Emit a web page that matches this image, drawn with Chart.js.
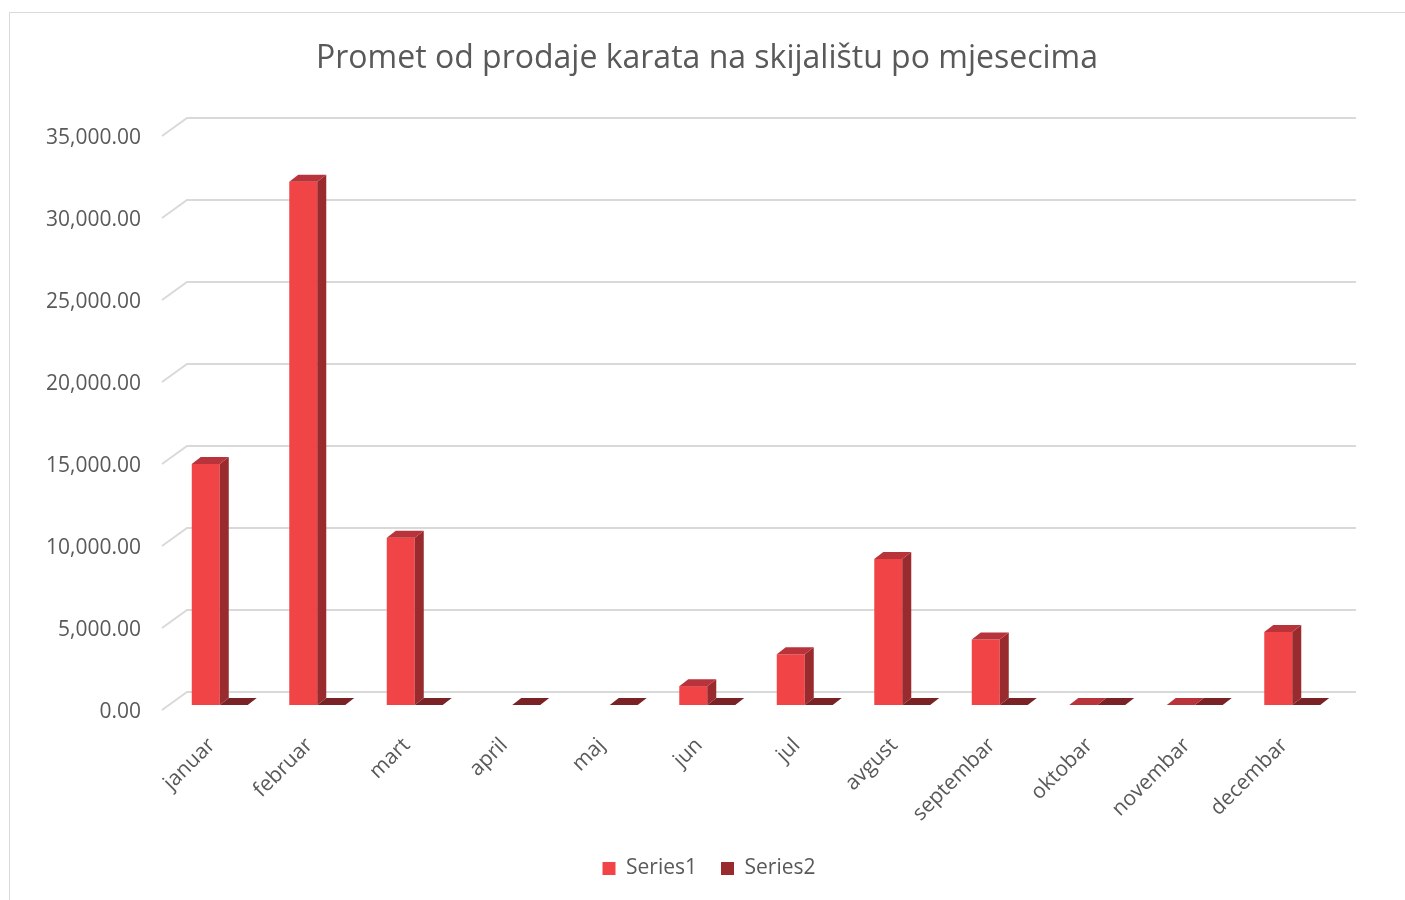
<!DOCTYPE html>
<html>
<head>
<meta charset="utf-8">
<script src="https://cdn.jsdelivr.net/npm/chart.js@4.4.1/dist/chart.umd.min.js"></script>
<style>
  html, body { margin: 0; padding: 0; background: #fff; }
  #wrap { position: absolute; left: 0; top: 0; width: 1405px; height: 900px; }
</style>
</head>
<body>
<div id="wrap"><canvas id="chart" width="1405" height="900"></canvas></div>
<script>
// data
const months = ["januar", "februar", "mart", "april", "maj", "jun", "jul", "avgust", "septembar", "oktobar", "novembar", "decembar"];
const series1 = [14700, 31900, 10200, null, null, 1150, 3100, 8900, 4000, 0, 0, 4450];
const series2 = [0, 0, 0, 0, 0, 0, 0, 0, 0, 0, 0, 0];
const yMax = 35000;
const yStep = 5000;

const TEXT = "#595959";
const FONT = "'Open Sans', sans-serif";

// 3D look: side + top faces per bar, back wall grid offset
const DEPTH_X = 9, DEPTH_Y = 7;
const WALL_DX = 16, WALL_DY = 13;
const LEGEND_PAD_BOTTOM = 11;

const faceColors = [
  { front: "#F04447", side: "#992A2E", top: "#B8343A" },
  { front: "#992A2E", side: "#6E1E21", top: "#7A2326" }
];

const backWall = {
  id: "backWall",
  afterLayout(chart) {
    // centre title and legend on the whole frame, not on the padded box
    chart.titleBlock.left = 9;
    chart.titleBlock.right = 1405;
    chart.titleBlock.width = 1396;
    chart.legend.left = 13;
    chart.legend.right = 1405;
    chart.legend.width = 1392;
  },
  beforeDraw(chart) {
    const { ctx } = chart;
    ctx.save();
    ctx.strokeStyle = "#D9D9D9";
    ctx.lineWidth = 1;
    ctx.strokeRect(9.5, 12.5, 1400, 900);
    ctx.restore();
  },
  beforeDatasetsDraw(chart) {
    const { ctx, chartArea } = chart;
    const y = chart.scales.y;
    ctx.save();
    ctx.strokeStyle = "#D9D9D9";
    ctx.lineWidth = 2;
    y.ticks.forEach(t => {
      const py = y.getPixelForValue(t.value);
      ctx.beginPath();
      ctx.moveTo(chartArea.left - 9, py + 5);
      ctx.lineTo(chartArea.left + WALL_DX, py - WALL_DY);
      ctx.lineTo(chartArea.right + 15, py - WALL_DY);
      ctx.stroke();
    });
    ctx.restore();
  },
  afterDatasetsDraw(chart) {
    const { ctx } = chart;
    ctx.save();
    // series2 first (slabs), then series1 so its side faces sit on top
    [1, 0].forEach(di => {
      const meta = chart.getDatasetMeta(di);
      const c = faceColors[di];
      meta.data.forEach((bar, i) => {
        if (chart.data.datasets[di].data[i] === null) return;
        const p = bar.getProps(["x", "y", "base", "width"], true);
        const l = p.x - p.width / 2, r = p.x + p.width / 2;
        const top = p.y, base = p.base;
        // side face
        ctx.fillStyle = c.side;
        ctx.beginPath();
        ctx.moveTo(r, top);
        ctx.lineTo(r + DEPTH_X, top - DEPTH_Y);
        ctx.lineTo(r + DEPTH_X, base - DEPTH_Y);
        ctx.lineTo(r, base);
        ctx.closePath();
        ctx.fill();
        // top face
        ctx.fillStyle = c.top;
        ctx.beginPath();
        ctx.moveTo(l, top);
        ctx.lineTo(l + DEPTH_X, top - DEPTH_Y);
        ctx.lineTo(r + DEPTH_X, top - DEPTH_Y);
        ctx.lineTo(r, top);
        ctx.closePath();
        ctx.fill();
      });
    });
    ctx.restore();
  }
};

new Chart(document.getElementById("chart"), {
  type: "bar",
  data: {
    labels: months,
    datasets: [
      { label: "Series1", data: series1, backgroundColor: faceColors[0].front, categoryPercentage: 0.574, barPercentage: 1 },
      { label: "Series2", data: series2, backgroundColor: faceColors[1].front, categoryPercentage: 0.574, barPercentage: 1 }
    ]
  },
  options: {
    responsive: false,
    animation: false,
    layout: { padding: { left: 0, right: 64, top: 0, bottom: LEGEND_PAD_BOTTOM } },
    plugins: {
      title: {
        display: true,
        text: "Promet od prodaje karata na skijalištu po mjesecima",
        color: TEXT,
        font: { family: FONT, size: 32, weight: "normal" },
        padding: { top: 40, bottom: 52.6 }
      },
      legend: {
        position: "bottom",
        labels: { color: TEXT, font: { family: FONT, size: 21 }, boxWidth: 13, boxHeight: 13, padding: 24 }
      },
      tooltip: { enabled: false }
    },
    scales: {
      x: {
        grid: { display: false, drawTicks: false },
        border: { display: false },
        ticks: { color: TEXT, font: { family: FONT, size: 21 }, minRotation: 45, maxRotation: 45, padding: 28, labelOffset: -8 },
        afterFit: s => { s.height = s.chart.height - 705 - s.chart.legend.height - LEGEND_PAD_BOTTOM; }
      },
      y: {
        min: 0, max: yMax,
        grid: { display: false, drawTicks: false },
        border: { display: false },
        ticks: {
          stepSize: yStep, color: TEXT, font: { family: FONT, size: 21 }, padding: 30, labelOffset: 7,
          callback: v => v.toLocaleString("en-US", { minimumFractionDigits: 2, maximumFractionDigits: 2 })
        },
        afterFit: s => { s.width = 171; }
      }
    }
  },
  plugins: [backWall]
});
</script>
</body>
</html>
